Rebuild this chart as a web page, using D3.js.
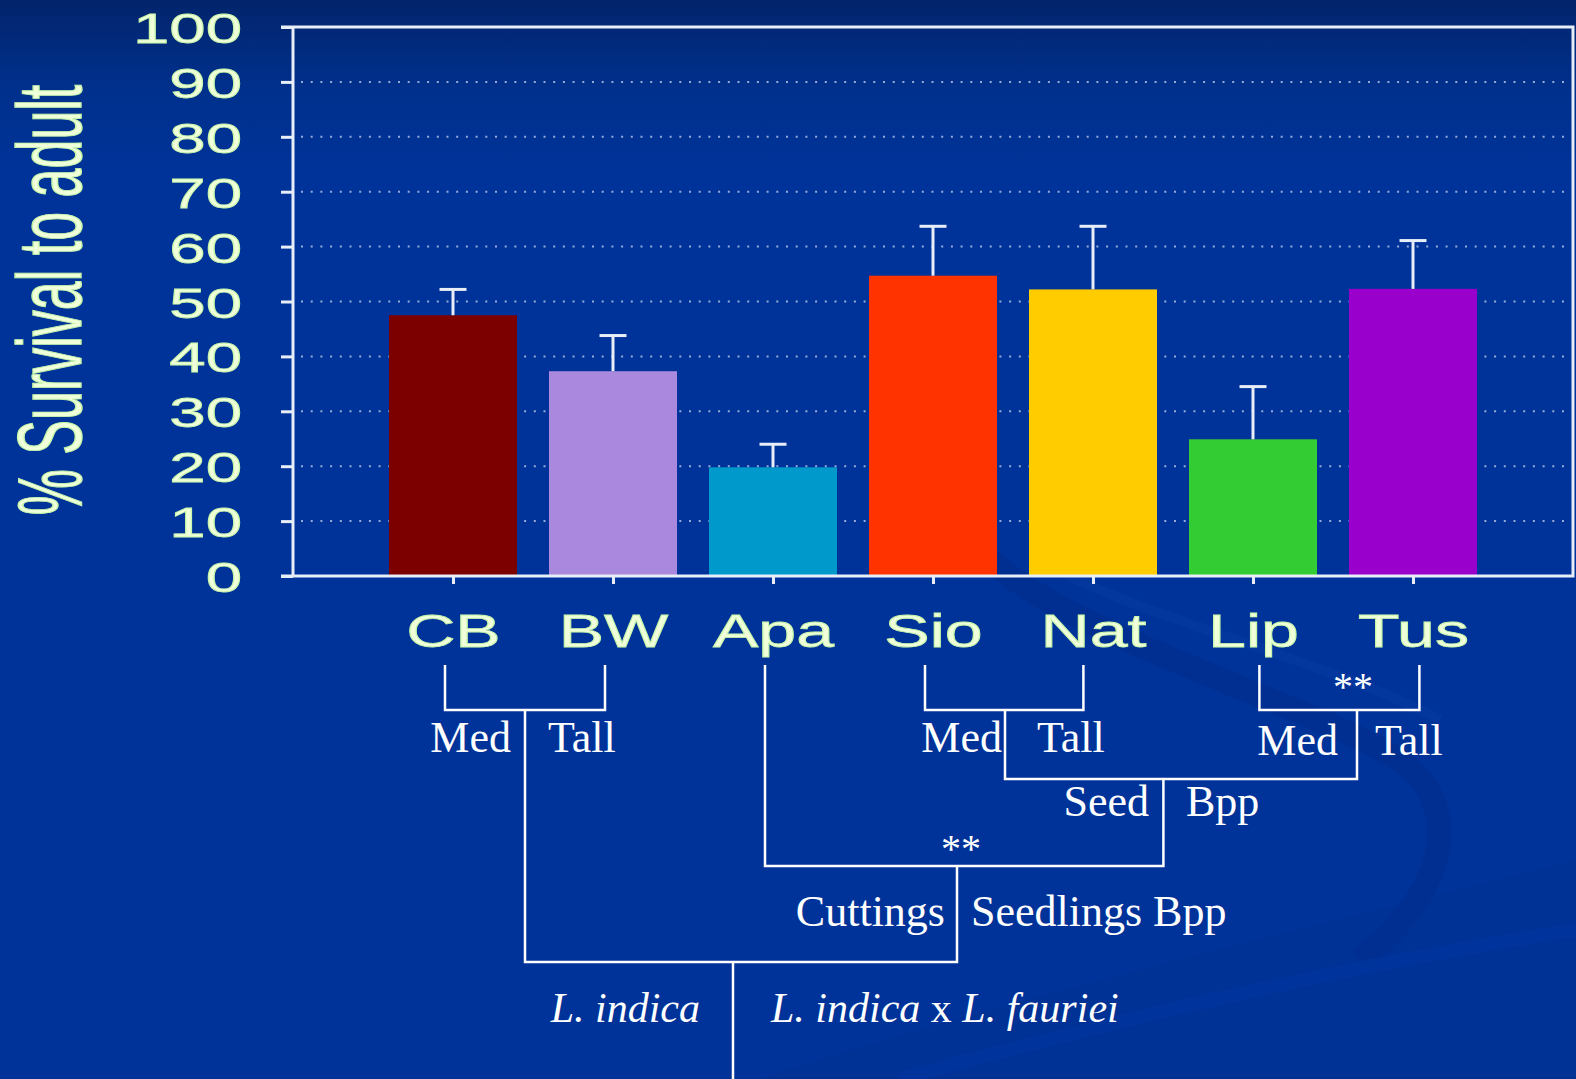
<!DOCTYPE html>
<html>
<head>
<meta charset="utf-8">
<script src="https://cdn.jsdelivr.net/npm/d3@7/dist/d3.min.js"></script>
<style>
  html, body { margin: 0; padding: 0; background: #003399; }
  svg { display: block; }
</style>
</head>
<body>
<svg id="chart" width="1576" height="1079"></svg>
<script>
// Survival to adult of crapemyrtle clones
const categories = ["CB", "BW", "Apa", "Sio", "Nat", "Lip", "Tus"];
const survival   = [47.5, 37.3, 19.8, 54.7, 52.2, 24.9, 52.3];
const errorSE    = [4.7, 6.5, 4.2, 9.0, 11.5, 9.6, 8.8];
const barColors  = ["#7d0000", "#aa88dd", "#0099cc", "#ff3300", "#ffcc00", "#33cc33", "#9900cc"];
const yTicks     = [0, 10, 20, 30, 40, 50, 60, 70, 80, 90, 100];
const yTitle     = "% Survival to adult";

const W = 1576, H = 1079;
const svg = d3.select("#chart");
const LABEL = "#eeffda";
const LABEL_EDGE = "#c6f5a8";
const LINE = "#e8eef8";

// background
const defs = svg.append("defs");
const bg = defs.append("linearGradient").attr("id", "bg").attr("x1", 0).attr("y1", 0).attr("x2", 0).attr("y2", 1);
bg.append("stop").attr("offset", 0).attr("stop-color", "#03246c");
bg.append("stop").attr("offset", 0.08).attr("stop-color", "#00308c");
bg.append("stop").attr("offset", 0.16).attr("stop-color", "#003399");
bg.append("stop").attr("offset", 1).attr("stop-color", "#003399");
svg.append("rect").attr("width", W).attr("height", H).attr("fill", "url(#bg)");

// soft decorative swooshes
const deco = svg.append("g").attr("fill", "none");
deco.append("path")
  .attr("d", "M990,560 C1080,640 1300,700 1400,760 C1470,810 1440,900 1360,960")
  .attr("stroke", "#002b88").attr("stroke-width", 24).attr("opacity", 0.45);
deco.append("path")
  .attr("d", "M1040,560 C1140,620 1330,660 1440,720")
  .attr("stroke", "#0a3fa6").attr("stroke-width", 10).attr("opacity", 0.4);
deco.append("path")
  .attr("d", "M760,1079 C1000,1000 1300,930 1576,860 L1576,1079 Z")
  .attr("fill", "#002f92").attr("opacity", 0.5);
deco.append("path")
  .attr("d", "M900,1079 C1150,1010 1380,960 1576,930")
  .attr("stroke", "#0038a3").attr("stroke-width", 14).attr("opacity", 0.5);

// scales
const x = d3.scaleLinear().domain([0, 8]).range([293, 1573]);
const y = d3.scaleLinear().domain([0, 100]).range([576, 27]);
const barW = x(0.8) - x(0);

// dotted gridlines
svg.append("g").selectAll("line")
  .data(yTicks.filter(t => t > 0 && t < 100))
  .join("line")
  .attr("x1", x(0) + 8).attr("x2", x(8) - 3)
  .attr("y1", d => y(d)).attr("y2", d => y(d))
  .attr("stroke", "#c8d4ee").attr("stroke-width", 2)
  .attr("stroke-dasharray", "2 7.7").attr("opacity", 0.75);

// bars
const data = categories.map((c, i) => ({ c, v: survival[i], e: errorSE[i], col: barColors[i], pos: i + 1 }));
svg.append("g").selectAll("rect")
  .data(data).join("rect")
  .attr("x", d => x(d.pos) - barW / 2)
  .attr("width", barW)
  .attr("y", d => y(d.v))
  .attr("height", d => y(0) - y(d.v))
  .attr("fill", d => d.col);

// error bars (upper only)
const eg = svg.append("g").attr("stroke", LINE).attr("stroke-width", 3);
eg.selectAll(".stem").data(data).join("line")
  .attr("x1", d => x(d.pos)).attr("x2", d => x(d.pos))
  .attr("y1", d => y(d.v)).attr("y2", d => y(d.v + d.e));
eg.selectAll(".cap").data(data).join("line")
  .attr("x1", d => x(d.pos) - 13.5).attr("x2", d => x(d.pos) + 13.5)
  .attr("y1", d => y(d.v + d.e)).attr("y2", d => y(d.v + d.e));

// axes frame
const frame = svg.append("g").attr("stroke", LINE).attr("stroke-width", 3).attr("fill", "none");
frame.append("path").attr("d", `M${x(0) - 12},${y(100)} H${x(8)} V${y(0)} H${x(0) - 12}`);
frame.append("line").attr("x1", x(0)).attr("x2", x(0)).attr("y1", y(100)).attr("y2", y(0));

// y axis ticks and labels
const yAxis = d3.axisLeft(y).tickValues(yTicks).tickSize(12).tickPadding(0).tickFormat(d3.format("d"));
const yg = svg.append("g").attr("transform", `translate(${x(0)},0)`).call(yAxis);
yg.select(".domain").remove();
yg.selectAll(".tick line").attr("stroke", LINE).attr("stroke-width", 3);
yg.selectAll(".tick text")
  .attr("x", null).attr("dy", null)
  .attr("fill", LABEL)
  .attr("stroke", LABEL_EDGE).attr("stroke-width", 0.8)
  .attr("font-family", "Liberation Sans, Arial, sans-serif")
  .attr("font-size", 43)
  .attr("text-anchor", "end")
  .attr("transform", "translate(-51,15.5) scale(1.52,1)");

// x axis ticks and labels
const xAxis = d3.axisBottom(x).tickValues(data.map(d => d.pos)).tickSize(8).tickPadding(0)
  .tickFormat(p => categories[p - 1]);
const xg = svg.append("g").attr("transform", `translate(0,${y(0)})`).call(xAxis);
xg.select(".domain").remove();
xg.selectAll(".tick line").attr("stroke", LINE).attr("stroke-width", 3);
xg.selectAll(".tick text")
  .attr("y", null).attr("dy", null)
  .attr("fill", LABEL)
  .attr("stroke", LABEL_EDGE).attr("stroke-width", 0.8)
  .attr("font-family", "Liberation Sans, Arial, sans-serif")
  .attr("font-size", 46)
  .attr("text-anchor", "middle")
  .attr("transform", "translate(0,71) scale(1.48,1)");

// y axis title
svg.append("text")
  .attr("transform", "translate(81,300) rotate(-90) scale(1,1.75)")
  .attr("text-anchor", "middle")
  .attr("fill", LABEL)
  .attr("stroke", LABEL_EDGE).attr("stroke-width", 0.8)
  .attr("font-family", "Liberation Sans, Arial, sans-serif")
  .attr("font-size", 52)
  .text(yTitle);

// grouping tree below the categories (positions in category units)
const lv = { top: 665, pair: 710, seed: 779, prop: 866, species: 962, end: 1079 };
const tree = svg.append("g").attr("stroke", "#ffffff").attr("stroke-width", 2.5).attr("fill", "none");
const seg = (pts) => tree.append("path").attr("d", d3.line()(pts));
// clone pairs
seg([[x(0.95), lv.top], [x(0.95), lv.pair], [x(1.95), lv.pair], [x(1.95), lv.top]]);
seg([[x(3.95), lv.top], [x(3.95), lv.pair], [x(4.94), lv.pair], [x(4.94), lv.top]]);
seg([[x(6.04), lv.top], [x(6.04), lv.pair], [x(7.04), lv.pair], [x(7.04), lv.top]]);
// seed vs Bpp
seg([[x(4.45), lv.pair], [x(4.45), lv.seed], [x(6.65), lv.seed], [x(6.65), lv.pair]]);
// cuttings vs seedlings
seg([[x(2.95), lv.top], [x(2.95), lv.prop], [x(5.44), lv.prop], [x(5.44), lv.seed]]);
// species
seg([[x(1.45), lv.pair], [x(1.45), lv.species], [x(4.15), lv.species], [x(4.15), lv.prop]]);
seg([[x(2.75), lv.species], [x(2.75), lv.end]]);

const serif = "Liberation Serif, Times New Roman, serif";
const treeLabels = [
  { t: "Med",  px: 511,  py: 752, a: "end" },
  { t: "Tall", px: 548,  py: 752, a: "start" },
  { t: "Med",  px: 1002, py: 752, a: "end" },
  { t: "Tall", px: 1037, py: 752, a: "start" },
  { t: "Med",  px: 1338, py: 755, a: "end" },
  { t: "Tall", px: 1375, py: 755, a: "start" },
  { t: "Seed", px: 1149, py: 816, a: "end" },
  { t: "Bpp",  px: 1186, py: 816, a: "start" },
  { t: "Cuttings", px: 945, py: 926, a: "end" },
  { t: "Seedlings Bpp", px: 971, py: 926, a: "start" },
  { t: "**", px: 1353, py: 700, a: "middle", s: 40 },
  { t: "**", px: 961,  py: 862, a: "middle", s: 40 }
];
svg.append("g").selectAll("text").data(treeLabels).join("text")
  .attr("x", d => d.px).attr("y", d => d.py)
  .attr("text-anchor", d => d.a)
  .attr("font-family", serif)
  .attr("font-size", d => d.s || 44)
  .attr("fill", "#ffffff")
  .text(d => d.t);

// species names
svg.append("text")
  .attr("x", 700).attr("y", 1022).attr("text-anchor", "end")
  .attr("font-family", serif).attr("font-size", 42).attr("fill", "#ffffff")
  .attr("font-style", "italic").text("L. indica");
const hyb = svg.append("text")
  .attr("x", 771).attr("y", 1022)
  .attr("font-family", serif).attr("font-size", 42).attr("fill", "#ffffff");
hyb.append("tspan").attr("font-style", "italic").text("L. indica");
hyb.append("tspan").text(" x ");
hyb.append("tspan").attr("font-style", "italic").text("L. fauriei");
</script>
</body>
</html>
